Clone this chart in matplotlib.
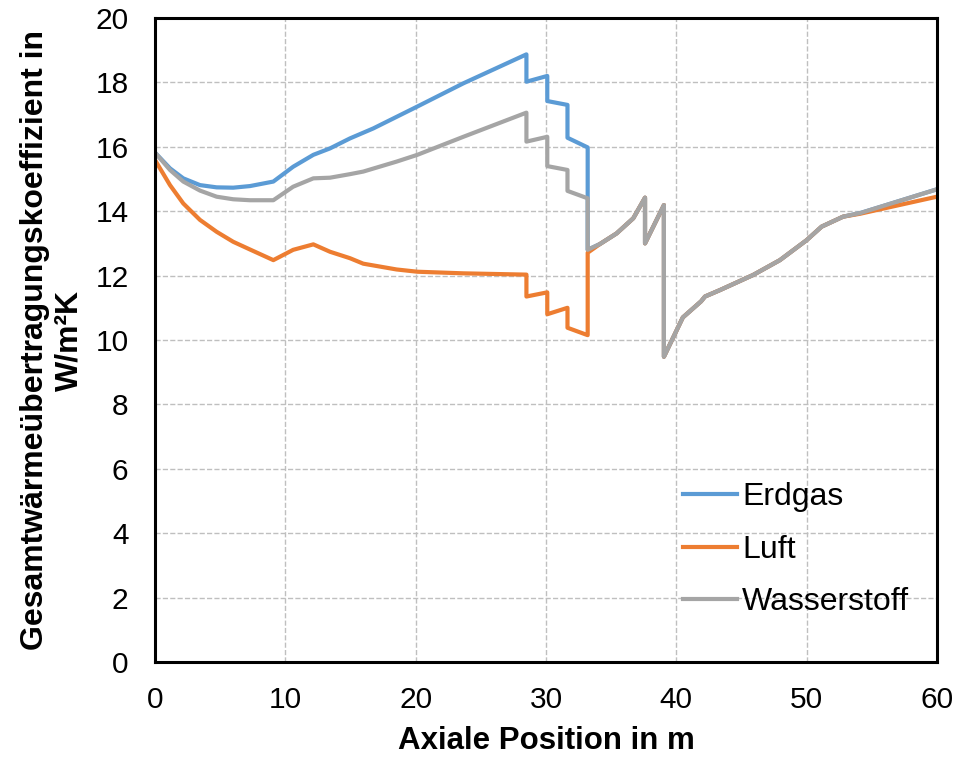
import matplotlib
matplotlib.use('Agg')
import matplotlib.pyplot as plt

plt.rcParams['font.family'] = ['Liberation Sans', 'DejaVu Sans']

# shared curve after x = 33.2 m (all three gases nearly identical)
tail_x = [34.14, 35.42, 36.7, 37.6, 37.6, 39.05, 39.05, 40.5, 41.9, 42.2,
          43.35, 45.9, 47.95, 50.0, 51.15, 52.8]
tail_y = [12.98, 13.31, 13.78, 14.42, 13.0, 14.19, 9.48, 10.7, 11.2, 11.35,
          11.55, 12.02, 12.48, 13.1, 13.52, 13.83]

erdgas_x = [0, 1.15, 2.17, 3.45, 4.73, 6.0, 7.29, 9.08, 10.6, 12.15, 13.43,
            14.96, 16.75, 20.13, 23.66, 28.5, 28.5, 30.1, 30.1, 31.65, 31.65,
            33.2, 33.2] + tail_x + [54.1, 60]
erdgas_y = [15.82, 15.33, 15.02, 14.81, 14.74, 14.73, 14.78, 14.92, 15.38,
            15.75, 15.95, 16.26, 16.57, 17.25, 17.97, 18.87, 18.02, 18.2,
            17.42, 17.3, 16.28, 15.98, 12.8] + tail_y + [13.94, 14.68]

luft_x = [0, 1.15, 2.17, 3.45, 4.73, 6.0, 7.29, 9.08, 10.6, 12.15, 13.43,
          14.96, 15.98, 18.54, 20.13, 23.66, 28.5, 28.5, 30.1, 30.1, 31.65,
          31.65, 33.2, 33.2] + tail_x + [54.1, 60]
luft_y = [15.59, 14.81, 14.24, 13.73, 13.36, 13.05, 12.81, 12.48, 12.8, 12.97,
          12.74, 12.54, 12.37, 12.19, 12.12, 12.07, 12.03, 11.35, 11.48, 10.8,
          11.0, 10.38, 10.15, 12.71] + tail_y + [13.92, 14.45]

wasser_x = [0, 1.15, 2.17, 3.45, 4.73, 6.0, 7.29, 9.08, 10.6, 12.15, 13.43,
            14.96, 15.98, 18.54, 20.13, 23.66, 28.5, 28.5, 30.1, 30.1, 31.65,
            31.65, 33.2, 33.2] + tail_x + [54.1, 60]
wasser_y = [15.82, 15.28, 14.92, 14.64, 14.45, 14.37, 14.34, 14.34, 14.76,
            15.02, 15.04, 15.15, 15.23, 15.54, 15.75, 16.31, 17.06, 16.16,
            16.31, 15.4, 15.28, 14.63, 14.4, 12.8] + tail_y + [13.94, 14.68]

fig = plt.figure(figsize=(9.55, 7.58), dpi=100, facecolor='white')
ax = fig.add_axes([0.1623, 0.1266, 0.8188, 0.8497])

ax.plot(erdgas_x, erdgas_y, color='#5B9BD5', lw=3, label='Erdgas')
ax.plot(luft_x, luft_y, color='#ED7D31', lw=3, label='Luft')
ax.plot(wasser_x, wasser_y, color='#A5A5A5', lw=3, label='Wasserstoff')

ax.set_xlim(0, 60)
ax.set_ylim(0, 20)
ax.set_xticks(range(0, 61, 10))
ax.set_yticks(range(0, 21, 2))
ax.tick_params(length=0, labelsize=21.5)
ax.tick_params(axis='x', pad=17)
ax.tick_params(axis='y', pad=19)

ax.grid(True, color='#BFBFBF', linestyle='--', linewidth=1)
for s in ax.spines.values():
    s.set_linewidth(2.2)
    s.set_color('black')

ax.set_xlabel('Axiale Position in m', fontsize=22.5, fontweight='bold', labelpad=9)
ax.set_ylabel('Gesamtwärmeübertragungskoeffizient in\nW/m²K', fontsize=23,
              fontweight='bold', labelpad=8, linespacing=1.2)

ax.legend(loc='lower right', bbox_to_anchor=(0.993, 0.035), frameon=False,
          fontsize=23, handlelength=1.7, handletextpad=0.15, labelspacing=0.7,
          borderaxespad=0.3)

fig.savefig('out.png', dpi=100, facecolor='white')
